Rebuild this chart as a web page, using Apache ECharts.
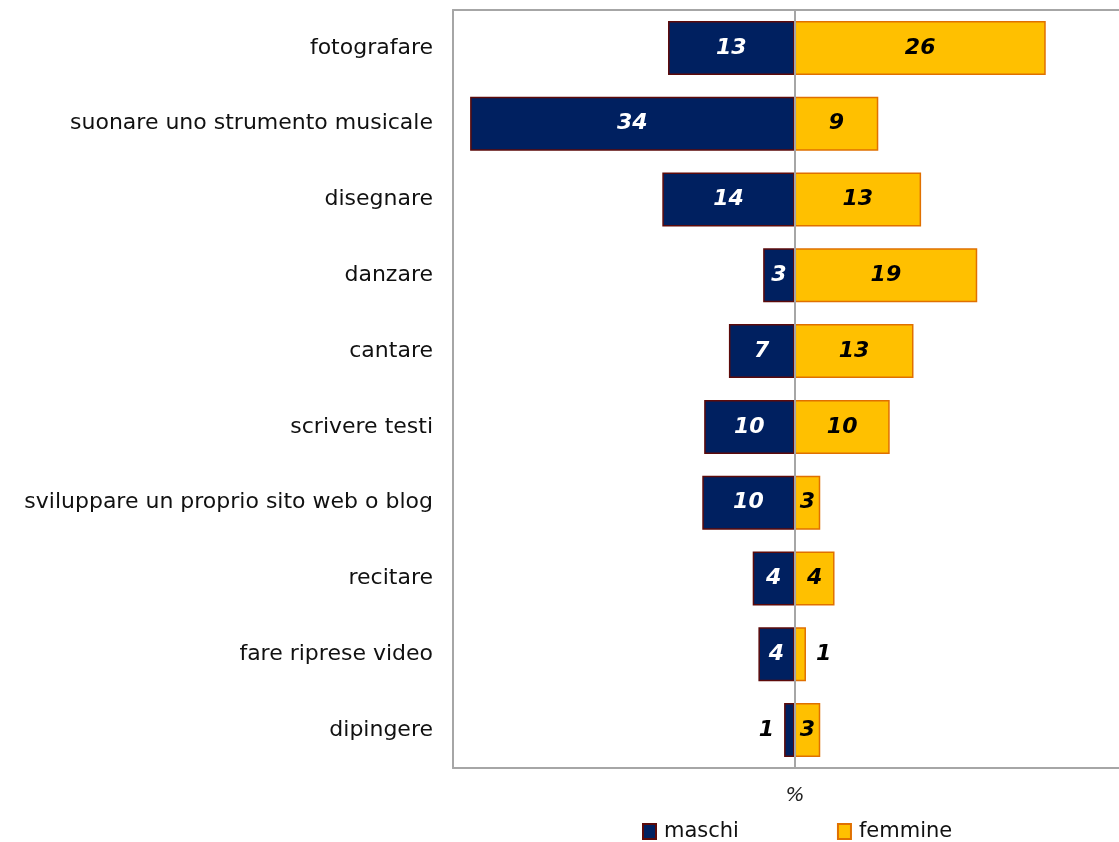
<!DOCTYPE html>
<html>
<head>
<meta charset="utf-8">
<script src="https://cdn.jsdelivr.net/npm/echarts@6/dist/echarts.min.js"></script>
<style>
html, body { margin: 0; padding: 0; background: #fff; }
#chart { width: 1119px; height: 842px; }
</style>
</head>
<body>
<div id="chart"></div>
<script>
var categories = ['fotografare', 'suonare uno strumento musicale', 'disegnare', 'danzare', 'cantare',
    'scrivere testi', 'sviluppare un proprio sito web o blog', 'recitare', 'fare riprese video', 'dipingere'];
// valori (%), maschi a sinistra
var maschi = [13.3, 34.1, 13.9, 3.3, 6.9, 9.5, 9.7, 4.4, 3.8, 1.1];
var femmine = [26.4, 8.8, 13.3, 19.2, 12.5, 10.0, 2.7, 4.2, 1.2, 2.7];

var myChart = echarts.init(document.getElementById('chart'));

function lbl(v, color) {
    // le barre troppo corte hanno l'etichetta fuori, in nero
    if (Math.abs(v) < 2) {
        return { position: v < 0 ? 'left' : 'right', color: '#000', distance: 10 };
    }
    return { position: 'inside', color: color };
}

var gray = { color: '#a6a6a6', width: 2 };

var option = {
    backgroundColor: '#fff',
    grid: { left: 453, right: 0, top: 10, bottom: 74 },
    legend: {
        left: 637, top: 816,
        icon: 'rect', itemWidth: 13, itemHeight: 15, itemGap: 98,
        textStyle: { fontFamily: 'DejaVu Sans', fontSize: 21, color: '#111', padding: [0, 0, 0, 3] },
        data: ['maschi', 'femmine']
    },
    xAxis: [{
        type: 'value', min: -35.9, max: 34.1, position: 'bottom',
        name: '%', nameLocation: 'middle', nameGap: 18,
        nameTextStyle: { fontFamily: 'DejaVu Sans', fontSize: 20, fontStyle: 'italic', color: '#222', padding: [0, 0, 0, 18] },
        axisLine: { show: true, onZero: false, lineStyle: gray }, axisTick: { show: false },
        axisLabel: { show: false }, splitLine: { show: false }
    }, {
        type: 'value', min: -35.9, max: 34.1, position: 'top',
        axisLine: { show: true, onZero: false, lineStyle: gray }, axisTick: { show: false },
        axisLabel: { show: false }, splitLine: { show: false }
    }],
    yAxis: {
        type: 'category', inverse: true, data: categories,
        axisLine: { onZero: false, lineStyle: gray },
        axisTick: { show: false },
        axisLabel: { margin: 20, fontFamily: 'DejaVu Sans', fontSize: 22, color: '#111' }
    },
    series: [{
        name: 'maschi', type: 'bar', barWidth: 54, barGap: '-100%',
        itemStyle: { color: '#002060', borderColor: '#5c0a0a', borderWidth: 1.5 },
        label: {
            show: true, fontFamily: 'DejaVu Sans', fontSize: 22, fontWeight: 'bold', fontStyle: 'italic',
            formatter: function (p) { return Math.round(Math.abs(p.value)); }
        },
        data: maschi.map(function (v) { return { value: -v, label: lbl(-v, '#fff') }; })
    }, {
        name: 'femmine', type: 'bar', barWidth: 54,
        itemStyle: { color: '#ffc000', borderColor: '#e07000', borderWidth: 1.5 },
        label: {
            show: true, fontFamily: 'DejaVu Sans', fontSize: 22, fontWeight: 'bold', fontStyle: 'italic',
            formatter: function (p) { return Math.round(Math.abs(p.value)); }
        },
        // linea dello zero
        markLine: {
            silent: true, symbol: 'none', label: { show: false },
            lineStyle: { color: '#a6a6a6', width: 2, type: 'solid' },
            data: [{ xAxis: 0 }]
        },
        data: femmine.map(function (v) { return { value: v, label: lbl(v, '#000') }; })
    }]
};

myChart.setOption(option);
</script>
</body>
</html>
